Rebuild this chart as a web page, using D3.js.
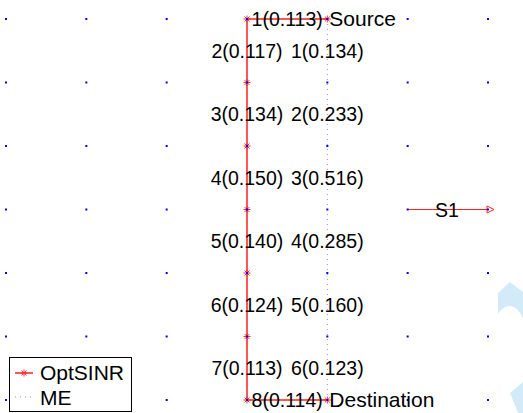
<!DOCTYPE html>
<html>
<head>
<meta charset="utf-8">
<script src="https://cdn.jsdelivr.net/npm/d3@7"></script>
<style>
  body { margin: 0; background: #fff; }
  text { font-family: "Liberation Sans", Arial, sans-serif; font-size: 19.5px; fill: #000; }
  text.word { font-size: 21px; }
</style>
</head>
<body>
<div id="chart"></div>
<script>
// data
var gridCols = d3.range(0, 7),
    gridRows = d3.range(0, 7);

// OptSINR route (grid col,row), goes Source -> left -> down -> right -> Destination
var optPath = [[4,0],[3,0],[3,1],[3,2],[3,3],[3,4],[3,5],[3,6],[4,6]];
var optValues = [0.113, 0.117, 0.134, 0.150, 0.140, 0.124, 0.113, 0.114];

// ME route straight down
var mePath = [[4,0],[4,1],[4,2],[4,3],[4,4],[4,5],[4,6]];
var meValues = [0.134, 0.233, 0.516, 0.285, 0.160, 0.123];

var endLabels = [{name: "Source", p: [4,0]}, {name: "Destination", p: [4,6]}];
var arrowS1 = {name: "S1", from: [5,3], to: [6,3]};
var legendItems = ["OptSINR", "ME"];

// layout
var width = 523, height = 413;

var svg = d3.select("#chart")
  .append("svg")
    .attr("width", width)
    .attr("height", height);

var x = d3.scaleLinear().domain([0, 6]).range([6, 488]);
var y = d3.scaleLinear().domain([0, 6]).range([19, 400]);

var line = d3.line()
  .x(function(d) { return x(d[0]) })
  .y(function(d) { return y(d[1]) });

// watermark shapes at right edge
svg.append("path")
  .attr("d", "M498,293 L510,282 L523,292 L523,318 Q517,306 510,306 Q503,306 498,314 Z")
  .attr("fill", "#d3ebf8");
svg.append("path")
  .attr("d", "M510,393 L523,382 L523,413 L518,413 Z")
  .attr("fill", "#d3ebf8");

// ME dotted line
svg.append("path")
  .attr("d", line(mePath))
  .attr("fill", "none")
  .attr("stroke", "#8c8cff")
  .attr("stroke-width", 1)
  .attr("stroke-dasharray", "1,4");

// OptSINR red line
svg.append("path")
  .attr("d", line(optPath))
  .attr("fill", "none")
  .attr("stroke", "#ff2020")
  .attr("stroke-width", 1.5);

function star(g, cx, cy, r) {
  var s = g.append("g").attr("transform", "translate(" + cx + "," + cy + ")");
  [[-r,0,r,0],[0,-r,0,r],[-r*0.7,-r*0.7,r*0.7,r*0.7],[-r*0.7,r*0.7,r*0.7,-r*0.7]].forEach(function(l) {
    s.append("line")
      .attr("x1", l[0]).attr("y1", l[1]).attr("x2", l[2]).attr("y2", l[3])
      .attr("stroke", "#ff3030").attr("stroke-width", 1);
  });
}

optPath.forEach(function(p) { star(svg, x(p[0]), y(p[1]), 3.5); });

// S1 arrow
svg.append("line")
  .attr("x1", x(arrowS1.from[0])).attr("y1", y(arrowS1.from[1]))
  .attr("x2", x(arrowS1.to[0])).attr("y2", y(arrowS1.to[1]))
  .attr("stroke", "#ff2020").attr("stroke-width", 1.2);
var ax = x(arrowS1.to[0]), ay = y(arrowS1.to[1]);
svg.append("path")
  .attr("d", "M" + (ax - 1) + "," + (ay - 3.5) + "L" + (ax + 6) + "," + ay + "L" + (ax - 1) + "," + (ay + 3.5) + "Z")
  .attr("fill", "none")
  .attr("stroke", "#ff2020")
  .attr("stroke-width", 1);
svg.append("text")
  .attr("x", (x(arrowS1.from[0]) + x(arrowS1.to[0])) / 2 - 1)
  .attr("y", ay + 1)
  .attr("dy", "0.35em")
  .attr("text-anchor", "middle")
  .text(arrowS1.name);

// grid dots
gridRows.forEach(function(r) {
  gridCols.forEach(function(c) {
    svg.append("rect")
      .attr("x", x(c) - 1).attr("y", y(r) - 1)
      .attr("width", 2).attr("height", 2)
      .attr("fill", "#0000ff");
  });
});

// segment labels
function segLabels(path, values) {
  values.forEach(function(v, i) {
    var a = path[i], b = path[i + 1];
    svg.append("text")
      .attr("x", (x(a[0]) + x(b[0])) / 2)
      .attr("y", (y(a[1]) + y(b[1])) / 2)
      .attr("dy", "0.35em")
      .attr("text-anchor", "middle")
      .text((i + 1) + "(" + v.toFixed(3) + ")");
  });
}
segLabels(optPath, optValues);
segLabels(mePath, meValues);

endLabels.forEach(function(d) {
  svg.append("text")
    .attr("class", "word")
    .attr("x", x(d.p[0]) + 2)
    .attr("y", y(d.p[1]))
    .attr("dy", "0.35em")
    .text(d.name);
});

// legend
var leg = svg.append("g");
leg.append("rect")
  .attr("x", 9.5).attr("y", 357.5)
  .attr("width", 122).attr("height", 54)
  .attr("fill", "#fff")
  .attr("stroke", "#000")
  .attr("stroke-width", 1);
leg.append("line")
  .attr("x1", 15).attr("x2", 33).attr("y1", 373).attr("y2", 373)
  .attr("stroke", "#ff2020").attr("stroke-width", 1.5);
star(leg, 24, 373, 3.5);
leg.append("line")
  .attr("x1", 15).attr("x2", 33).attr("y1", 397).attr("y2", 397)
  .attr("stroke", "#8c8cff").attr("stroke-width", 1)
  .attr("stroke-dasharray", "1,4");
leg.selectAll("text.l")
  .data(legendItems)
  .enter().append("text")
    .attr("class", "word")
    .attr("x", 40)
    .attr("y", function(d, i) { return 373 + i * 25 })
    .attr("dy", "0.35em")
    .text(function(d) { return d });
</script>
</body>
</html>
